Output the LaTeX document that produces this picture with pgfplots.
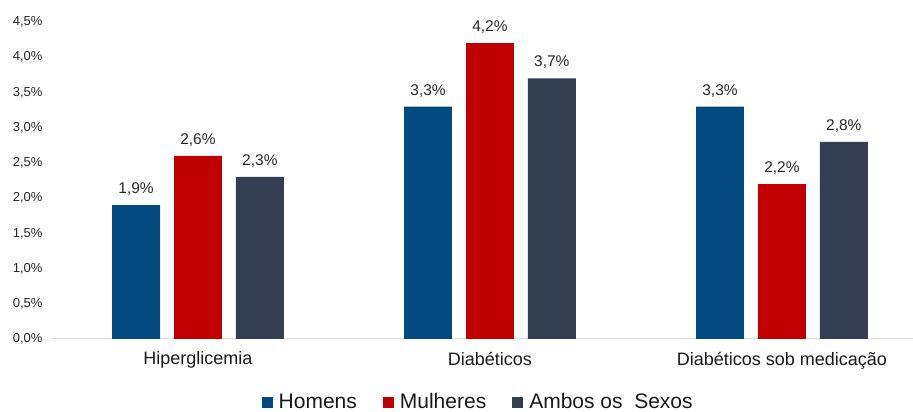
\documentclass[border=0pt]{standalone}
\usepackage{pgfplots}
\pgfplotsset{compat=1.18}
\usepackage{fontspec}
\setmainfont{Liberation Sans}
\definecolor{cH}{HTML}{004A80}
\definecolor{cM}{HTML}{C00000}
\definecolor{cA}{HTML}{333F50}
\definecolor{cAx}{HTML}{D9D9D9}
\begin{document}
\begin{tikzpicture}[x=1pt,y=1pt]
\useasboundingbox (0,0) rectangle (913,412);
\begin{axis}[
  at={(52pt,73pt)}, anchor=south west,
  scale only axis, width=861pt, height=317pt,
  xmin=-0.5, xmax=2.449, ymin=0, ymax=4.5,
  axis line style={draw=none},
  tick style={draw=none},
  xtick={0,1,2},
  xticklabels={Hiperglicemia, Diabéticos, Diabéticos sob medicação},
  x tick label style={font=\fontsize{18}{20}\selectfont, text=black!90, yshift=-5pt},
  ytick={0,0.5,...,4.5},
  yticklabel={\pgfmathprintnumber[fixed,fixed zerofill,precision=1,use comma,assume math mode=true]{\tick}\%},
  y tick label style={font=\fontsize{13}{15}\selectfont, text=black!85, xshift=-6pt},
  ybar, bar width=0.164,
  nodes near coords={\pgfmathprintnumber[fixed,fixed zerofill,precision=1,use comma,assume math mode=true]{\pgfplotspointmeta}\%},
  every node near coord/.append style={font=\fontsize{15.5}{17}\selectfont, text=black!85, yshift=6pt},
  legend columns=3,
  legend style={at={(0.4950,-0.158)}, anchor=north, draw=none, fill=none,
    font=\fontsize{21}{23}\selectfont, text=black!90,
    /tikz/every even column/.append style={column sep=24pt}},
  legend image code/.code={\fill[#1] (0pt,-6pt) rectangle (11pt,5pt); \path (15pt,0pt);},
]
\draw[cAx, line width=1.3pt] (rel axis cs:0,0) -- (rel axis cs:1,0);
\addplot[fill=cH, draw=none, bar shift=-0.212] coordinates {(0,1.9) (1,3.3) (2,3.3)};
\addplot[fill=cM, draw=none, bar shift=0] coordinates {(0,2.6) (1,4.2) (2,2.2)};
\addplot[fill=cA, draw=none, bar shift=0.212] coordinates {(0,2.3) (1,3.7) (2,2.8)};
\legend{Homens, Mulheres, Ambos os\ \ Sexos}
\end{axis}
\end{tikzpicture}
\end{document}
